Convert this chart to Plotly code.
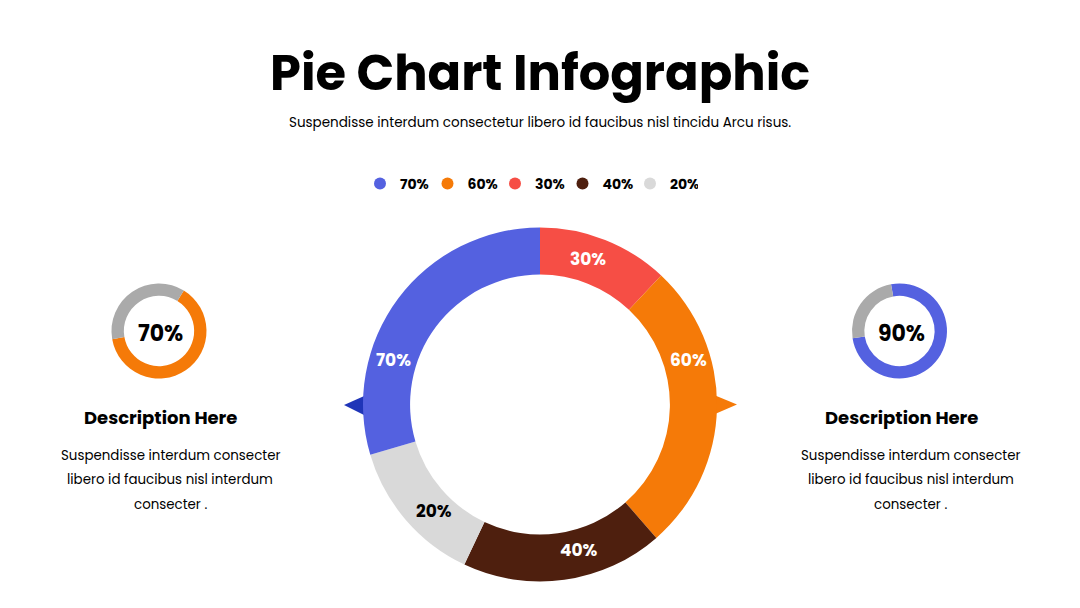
import plotly.graph_objects as go

W, H = 1080, 608

# ---- data ----
main_labels = ["30%", "60%", "40%", "20%", "70%"]          # clockwise from 12 o'clock
main_sizes = [43.2, 95.7, 66.4, 48.2, 106.5]               # slice sizes as drawn (degrees)
main_colors = ["#F64E45", "#F57A08", "#4E1F0E", "#D9D9D9", "#5461E0"]
main_text_colors = ["white", "white", "white", "black", "white"]

legend_labels = ["70%", "60%", "30%", "40%", "20%"]
legend_colors = ["#5461E0", "#F57A08", "#F64E45", "#4E1F0E", "#D9D9D9"]

left_label = "70%"
left_sizes = [63.5, 36.5]
left_colors = ["#F57A08", "#AAAAAA"]

right_label = "90%"
right_sizes = [75.4, 24.6]
right_colors = ["#5461E0", "#AAAAAA"]

title_text = "Pie Chart Infographic"
subtitle_text = "Suspendisse interdum consectetur libero id faucibus nisl tincidu Arcu risus."
desc_title = "Description Here"
desc_lines = ["Suspendisse interdum consecter", "libero id faucibus nisl interdum", "consecter ."]

FONT = "Poppins, Inter, 'Open Sans', sans-serif"


def px(x):
    return x / W


def py(y):
    return (H - y) / H


def domain(cx, cy, r):
    return dict(x=[px(cx - r), px(cx + r)], y=[py(cy + r), py(cy - r)])


fig = go.Figure()

# main donut
fig.add_trace(go.Pie(
    values=main_sizes, labels=main_labels, sort=False, direction="clockwise",
    rotation=0, hole=0.734, textinfo="none", hoverinfo="label",
    marker=dict(colors=main_colors, line=dict(width=0)),
    domain=domain(540, 404.5, 177), showlegend=False,
))
# small donuts
fig.add_trace(go.Pie(
    values=left_sizes, sort=False, direction="clockwise", rotation=31.5,
    hole=0.74, textinfo="none", hoverinfo="skip",
    marker=dict(colors=left_colors, line=dict(width=0)),
    domain=domain(159, 331, 47.5), showlegend=False,
))
fig.add_trace(go.Pie(
    values=right_sizes, sort=False, direction="clockwise", rotation=-10.3,
    hole=0.74, textinfo="none", hoverinfo="skip",
    marker=dict(colors=right_colors, line=dict(width=0)),
    domain=domain(899.5, 331, 47.5), showlegend=False,
))

# legend entries
for lab, col in zip(legend_labels, legend_colors):
    fig.add_trace(go.Scatter(x=[None], y=[None], mode="markers", name=lab,
                             marker=dict(size=12, color=col), hoverinfo="skip"))

annotations = []


def txt(x, y, s, size, color="black", weight="normal"):
    annotations.append(dict(x=px(x), y=py(y), xref="paper", yref="paper", text=s,
                            showarrow=False, xanchor="center", yanchor="middle",
                            font=dict(family=FONT, size=size, color=color, weight=weight)))


txt(540, 72, title_text, 49.5, weight="bold")
txt(540, 122, subtitle_text, 13.5)

# main slice labels
label_pos = {"30%": (588, 259), "60%": (688, 360), "40%": (579, 550), "20%": (434, 511), "70%": (393, 360)}
for lab, tc in zip(main_labels, main_text_colors):
    x, y = label_pos[lab]
    txt(x, y, lab, 17, color=tc, weight="bold")

txt(160, 333, left_label, 22, weight="bold")
txt(901, 333, right_label, 22, weight="bold")

for cx_t, cx_b in [(160.5, 170), (901.5, 910.5)]:
    txt(cx_t, 417, desc_title, 18, weight="bold")
    for i, line in enumerate(desc_lines):
        txt(cx_b, 455 + 24.5 * i, line, 13.4)

shapes = [
    dict(type="path", xref="paper", yref="paper", layer="below",
         path=f"M {px(344)} {py(405)} L {px(372)} {py(392.5)} L {px(372)} {py(419)} Z",
         fillcolor="#1F35B8", line=dict(width=0)),
    dict(type="path", xref="paper", yref="paper", layer="below",
         path=f"M {px(737)} {py(404.5)} L {px(708)} {py(392.5)} L {px(708)} {py(417)} Z",
         fillcolor="#F57A08", line=dict(width=0)),
]

fig.update_layout(
    width=W, height=H, margin=dict(l=0, r=0, t=0, b=0),
    paper_bgcolor="white", plot_bgcolor="white",
    xaxis=dict(visible=False), yaxis=dict(visible=False),
    annotations=annotations, shapes=shapes,
    showlegend=True,
    legend=dict(orientation="h", x=px(360), xanchor="left", y=py(184), yanchor="middle",
                entrywidth=22.5, entrywidthmode="pixels", itemclick=False,
                font=dict(family=FONT, size=14, color="black", weight="bold"),
                bgcolor="rgba(0,0,0,0)"),
    hovermode=False,
)

fig.write_html("out.html")
